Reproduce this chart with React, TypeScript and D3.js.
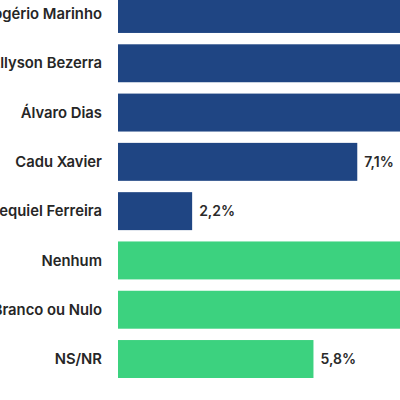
import React from "react";
import * as d3 from "d3";

const categories = [
  "Rogério Marinho",
  "Allyson Bezerra",
  "Álvaro Dias",
  "Cadu Xavier",
  "Ezequiel Ferreira",
  "Nenhum",
  "Branco ou Nulo",
  "NS/NR",
];
const values = [36.4, 27.8, 14.6, 7.1, 2.2, 10.2, 9.4, 5.8];
const groups = ["cand", "cand", "cand", "cand", "cand", "other", "other", "other"];

const W = 400;
const H = 400;

export default function App() {
  const y = d3
    .scaleBand<string>()
    .domain(categories)
    .range([-5, 378])
    .paddingInner(0.23)
    .paddingOuter(0);
  const x = d3.scaleLinear().domain([0, 10]).range([118, 455]);
  const color = d3
    .scaleOrdinal<string, string>()
    .domain(["cand", "other"])
    .range(["#1f4583", "#3cd27f"]);
  const fmt = (v: number) => d3.format(".1f")(v).replace(".", ",") + "%";

  return (
    <svg
      width={W}
      height={H}
      style={{ position: "absolute", left: 0, top: 0, background: "#fff" }}
      fontFamily="Inter, 'Open Sans', sans-serif"
    >
      {categories.map((c, i) => {
        const yy = y(c)!;
        const bw = x(values[i]) - x(0);
        return (
          <g key={c}>
            <rect x={x(0)} y={yy} width={bw} height={y.bandwidth()} fill={color(groups[i])} />
            <text
              x={102}
              y={yy + y.bandwidth() / 2}
              dy="0.35em"
              textAnchor="end"
              fontSize={14.8}
              fontWeight={600}
              fill="#262626"
            >
              {c}
            </text>
            <text
              x={x(values[i]) + 7}
              y={yy + y.bandwidth() / 2}
              dy="0.35em"
              fontSize={14}
              fontWeight={600}
              fill="#2a2a2a"
            >
              {fmt(values[i])}
            </text>
          </g>
        );
      })}
    </svg>
  );
}
